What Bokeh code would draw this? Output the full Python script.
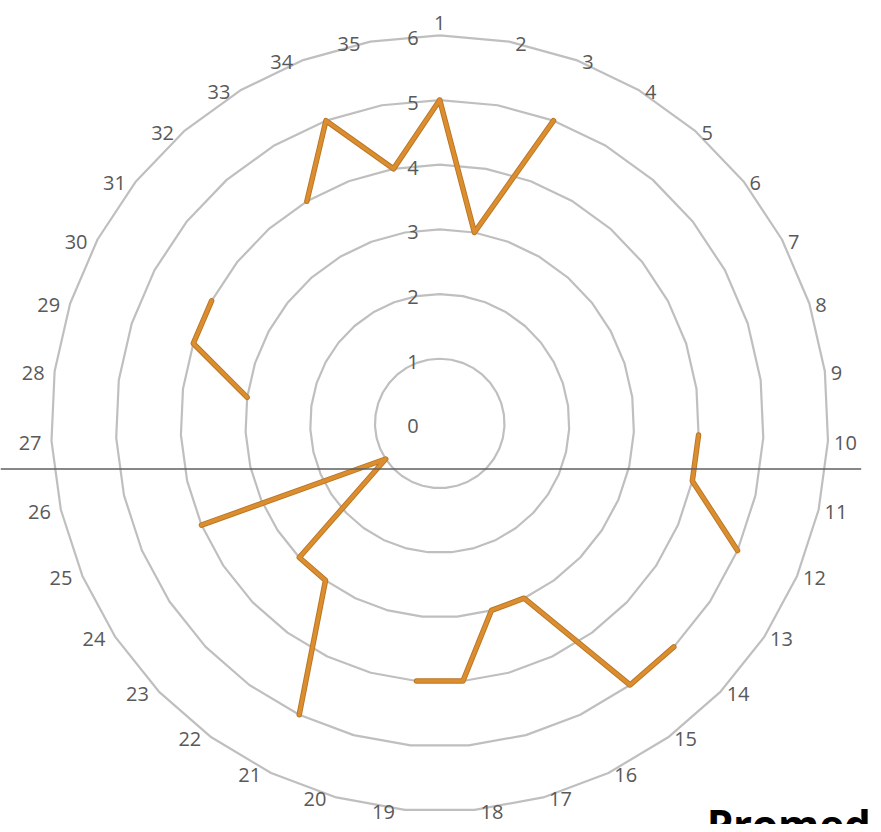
import numpy as np
from bokeh.plotting import figure
from bokeh.models import Range1d, Label
from bokeh.embed import file_html
from bokeh.resources import INLINE
from bokeh.core.properties import value

# ---- data ----
categories = ["1", "2", "3", "4", "5", "6", "7", "8", "9", "10",
              "11", "12", "13", "14", "15", "16", "17", "18", "19", "20",
              "21", "22", "23", "24", "25", "26", "27", "28", "29", "30",
              "31", "32", "33", "34", "35"]
scores = [5, 3, 5, None, None, None, None, None, None, 4,
          4, 5, None, 5, 5, 3, 3, 4, 4, None,
          5, 3, 3, 1, 4, None, None, 3, 4, 4,
          None, None, 4, 5, 4]
ring_levels = [1, 2, 3, 4, 5, 6]
tick_values = [0, 1, 2, 3, 4, 5, 6]
tick_labels = ["0", "1", "2", "3", "4", "5", "6"]
footer_text = "Promed"

# ---- layout (pixels) ----
W, H = 873, 824
K = H / 832.0               # fit the 881x832 design into the window
CX, CY = 443.5 * K, 427.0 * K
UX, UY = 65.4 * K, 65.3 * K
x_start = (0 - CX) / UX
x_end = (W - CX) / UX
y_top = CY / UY
y_bot = (CY - H) / UY

p = figure(width=W, height=H, x_range=Range1d(x_start, x_end),
           y_range=Range1d(y_bot, y_top), output_backend="svg",
           toolbar_location=None, min_border=0)
p.axis.visible = False
p.grid.visible = False
p.outline_line_color = None
p.background_fill_color = "white"
p.border_fill_color = "white"

n = len(categories)
theta = np.arange(n) * 2 * np.pi / n
s, c = np.sin(theta), np.cos(theta)

# grid polygons
gx, gy = [], []
for lv in ring_levels:
    gx.append(list(np.append(lv * s, lv * s[0])))
    gy.append(list(np.append(lv * c, lv * c[0])))
p.multi_line(gx, gy, line_color="#BFBFBF", line_width=2.2)

# data line (gaps for missing values, closed loop)
vals = np.array([np.nan if v is None else v for v in scores], dtype=float)
lx = np.append(vals * s, vals[0] * s[0])
ly = np.append(vals * c, vals[0] * c[0])
p.line(lx, ly, line_color="#B97627", line_width=5.5, line_join="round", line_cap="round")
p.line(lx, ly, line_color="#DC8E2E", line_width=3.6, line_join="round", line_cap="round")

# value axis labels
p.text(x=[0] * len(tick_values), y=tick_values, text=tick_labels,
       text_align="right", text_baseline="middle", x_offset=-21, y_offset=3,
       text_font=value("Open Sans"), text_font_size="20px", text_color="#595959")

# category labels
R = ring_levels[-1]
right_i = [i for i in range(n) if s[i] > 1e-9]
left_i = [i for i in range(n) if s[i] < -1e-9]
top_i = [i for i in range(n) if abs(s[i]) <= 1e-9]
common = dict(text_font=value("Open Sans"), text_font_size="20px", text_color="#595959")
p.text(x=[R * s[i] for i in right_i], y=[R * c[i] for i in right_i],
       text=[categories[i] for i in right_i], text_align="left",
       text_baseline="middle", x_offset=6, y_offset=2, **common)
p.text(x=[R * s[i] for i in left_i], y=[R * c[i] for i in left_i],
       text=[categories[i] for i in left_i], text_align="right",
       text_baseline="middle", x_offset=-10, y_offset=2, **common)
p.text(x=[R * s[i] for i in top_i], y=[R * c[i] for i in top_i],
       text=[categories[i] for i in top_i], text_align="center",
       text_baseline="alphabetic", x_offset=0, y_offset=-12, **common)

# decorative horizontal rule
rule_y = (CY - 473 * K) / UY
rule_x_end = (869 * K - CX) / UX
p.segment(x0=[x_start], y0=[rule_y], x1=[rule_x_end], y1=[rule_y],
          line_color="#5F5F5F", line_width=1.6)

# footer text (cut off at bottom, as in the original)
p.add_layout(Label(x=(713 * K - CX) / UX, y=(CY - 831 * K) / UY, text=footer_text,
                   text_font="Open Sans", text_font_style="bold",
                   text_font_size="42px", text_color="black",
                   text_baseline="alphabetic", text_align="left"))

open("out.html", "w").write(file_html(p, INLINE))
